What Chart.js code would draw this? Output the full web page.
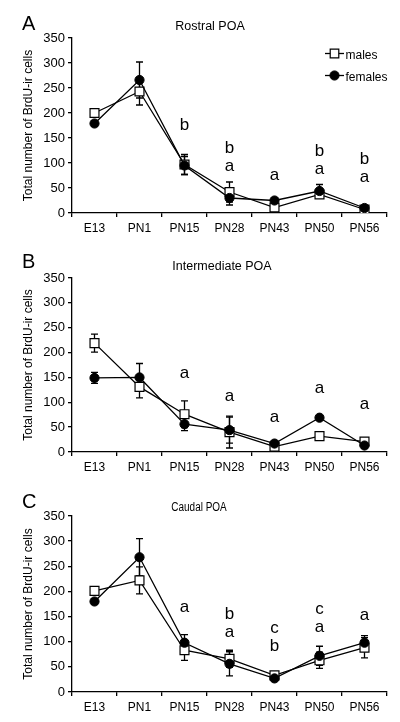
<!DOCTYPE html>
<html><head><meta charset="utf-8">
<script src="https://cdn.jsdelivr.net/npm/chart.js@4.4.1/dist/chart.umd.min.js"></script>
<style>
html,body{margin:0;padding:0;background:#fff;}
#wrap{position:relative;width:400px;height:722px;overflow:hidden;background:#fff;}
canvas{position:absolute;left:0;}
</style></head><body>
<div id="wrap">
<canvas id="cA" width="400" height="240" style="top:0px"></canvas>
<canvas id="cB" width="400" height="240" style="top:240px"></canvas>
<canvas id="cC" width="400" height="242" style="top:480px"></canvas>
</div>
<script>
// ---------- DATA ----------
const categories = ["E13", "PN1", "PN15", "PN28", "PN43", "PN50", "PN56"];
const yTicks = [0, 50, 100, 150, 200, 250, 300, 350];
const seriesNames = ["males", "females"];
const yTitle = "Total number of BrdU-ir cells";

// Panel A – Rostral POA
const rostralMales      = [200, 243, 97, 42, 11, 37, 7];
const rostralMalesErr   = [5, 27, 20, 20, 4, 5, 3];
const rostralFemales    = [179, 266, 95, 30, 25, 44, 10];
const rostralFemalesErr = [5, 36, 18, 14, 4, 13, 3];
const rostralLetters    = [[], [], ["b"], ["b", "a"], ["a"], ["b", "a"], ["b", "a"]];
const rostralLetterLevels = [null, null, 167, 84, 66, 78, 62];

// Panel B – Intermediate POA
const interMales      = [219, 131, 76, 40, 11, 32, 21];
const interMalesErr   = [18, 22, 27, 32, 3, 8, 6];
const interFemales    = [149, 150, 56, 44, 17, 69, 13];
const interFemalesErr = [11, 28, 13, 26, 3, 3, 5];
const interLetters    = [[], [], ["a"], ["a"], ["a"], ["a"], ["a"]];
const interLetterLevels = [null, null, 149, 103, 60, 119, 87];

// Panel C – Caudal POA
const caudalMales      = [201, 222, 83, 66, 33, 63, 88];
const caudalMalesErr   = [5, 27, 20, 17, 4, 16, 20];
const caudalFemales    = [180, 268, 98, 56, 27, 72, 98];
const caudalFemalesErr = [5, 37, 16, 24, 4, 19, 14];
const caudalLetters    = [[], [], ["a"], ["b", "a"], ["c", "b"], ["c", "a"], ["a"]];
const caudalLetterLevels = [null, null, 159, 109, 82, 119, 143];

// ---------- STYLE / PLUGINS ----------
const FONT = '"Liberation Sans", Arial, Helvetica, sans-serif';

const errorBarPlugin = {
  id: 'errorBars',
  beforeDatasetsDraw(chart) {
    const ctx = chart.ctx, ys = chart.scales.y;
    ctx.save();
    ctx.strokeStyle = '#000';
    ctx.lineWidth = 1.3;
    chart.data.datasets.forEach((ds, di) => {
      const meta = chart.getDatasetMeta(di);
      meta.data.forEach((pt, i) => {
        const v = ds.data[i], e = ds.errors[i];
        const x = pt.x;
        const yt = ys.getPixelForValue(v + e), yb = ys.getPixelForValue(v - e);
        ctx.beginPath();
        ctx.moveTo(x, yt); ctx.lineTo(x, yb);
        ctx.moveTo(x - 3.5, yt); ctx.lineTo(x + 3.5, yt);
        ctx.moveTo(x - 3.5, yb); ctx.lineTo(x + 3.5, yb);
        ctx.stroke();
      });
    });
    ctx.restore();
  }
};

const decoPlugin = {
  id: 'deco',
  afterDraw(chart, args, opts) {
    const ctx = chart.ctx, xs = chart.scales.x, ys = chart.scales.y;
    ctx.save();
    ctx.fillStyle = '#000';
    // panel letter
    ctx.font = '20px ' + FONT;
    ctx.textAlign = 'left';
    ctx.textBaseline = 'alphabetic';
    ctx.fillText(opts.panel, 22, opts.panelBaseline);
    // panel title (optionally horizontally condensed)
    ctx.save();
    ctx.font = opts.titleSize + 'px ' + FONT;
    ctx.textAlign = 'center';
    ctx.textBaseline = 'middle';
    ctx.translate(opts.titleX, opts.titleY);
    ctx.scale(opts.titleStretch, 1);
    ctx.fillText(opts.title, 0, 0);
    ctx.restore();
    // significance letters
    ctx.font = '17px ' + FONT;
    ctx.textAlign = 'center';
    ctx.textBaseline = 'alphabetic';
    opts.letters.forEach((arr, i) => {
      if (!arr.length) return;
      const x = xs.getPixelForValue(i);
      const yb = ys.getPixelForValue(opts.levels[i]);
      for (let k = arr.length - 1, j = 0; k >= 0; k--, j++) {
        ctx.fillText(arr[k], x, yb - j * 18);
      }
    });
    // legend
    if (opts.legend) {
      const items = [
        {ds: chart.data.datasets[0], y: 53.5, base: 59},
        {ds: chart.data.datasets[1], y: 75.5, base: 81}
      ];
      items.forEach(it => {
        ctx.strokeStyle = '#000';
        ctx.lineWidth = 1.3;
        ctx.beginPath(); ctx.moveTo(325, it.y); ctx.lineTo(344, it.y); ctx.stroke();
        ctx.fillStyle = it.ds.pointBackgroundColor;
        ctx.strokeStyle = '#000';
        ctx.lineWidth = it.ds.pointBorderWidth;
        ctx.beginPath();
        if (it.ds.pointStyle === 'rect') {
          const s = 5.5 * Math.SQRT1_2 + 0.4;
          ctx.rect(334.5 - s, it.y - s, 2 * s, 2 * s);
        } else {
          ctx.arc(334.5, it.y, it.ds.pointRadius, 0, Math.PI * 2);
        }
        ctx.fill(); ctx.stroke();
        ctx.fillStyle = '#000';
        ctx.font = '12px ' + FONT;
        ctx.textAlign = 'left';
        ctx.textBaseline = 'alphabetic';
        ctx.fillText(it.ds.label, 345.5, it.base);
      });
    }
    ctx.restore();
  }
};

function makeChart(id, males, malesErr, females, femalesErr, deco, layout) {
  return new Chart(document.getElementById(id), {
    type: 'line',
    data: {
      labels: categories,
      datasets: [
        {
          label: seriesNames[0], data: males, errors: malesErr,
          borderColor: '#000', borderWidth: 1.3, tension: 0,
          pointStyle: 'rect', pointRadius: 6.3, pointBorderWidth: 1.2,
          pointBackgroundColor: '#fff', pointBorderColor: '#000', order: 1
        },
        {
          label: seriesNames[1], data: females, errors: femalesErr,
          borderColor: '#000', borderWidth: 1.3, tension: 0,
          pointStyle: 'circle', pointRadius: 4.6, pointBorderWidth: 1,
          pointBackgroundColor: '#000', pointBorderColor: '#000', order: 0
        }
      ]
    },
    options: {
      responsive: false, animation: false, events: [],
      devicePixelRatio: 1,
      layout: { padding: { top: layout.top, right: 13, left: 0, bottom: 0 } },
      plugins: {
        legend: { display: false },
        tooltip: { enabled: false },
        deco: deco
      },
      scales: {
        x: {
          type: 'category', offset: true,
          afterFit(s) { s.height = layout.xh; },
          grid: { offset: true, drawOnChartArea: false, drawTicks: true, tickLength: 4, color: '#000', lineWidth: 1.3 },
          border: { color: '#000', width: 1.3 },
          ticks: { color: '#000', font: { family: FONT, size: 12 }, padding: 4, maxRotation: 0, autoSkip: false }
        },
        y: {
          min: yTicks[0], max: yTicks[yTicks.length - 1],
          afterFit(s) { s.width = 72; },
          afterBuildTicks(s) { s.ticks = yTicks.map(v => ({ value: v })); },
          grid: { drawOnChartArea: false, drawTicks: true, tickLength: 4, color: '#000', lineWidth: 1.3 },
          border: { color: '#000', width: 1.3 },
          ticks: { color: '#000', font: { family: FONT, size: 13 }, padding: 3 },
          title: { display: true, text: yTitle, color: '#000', font: { family: FONT, size: 12 }, padding: { top: 21, bottom: 0 } }
        }
      }
    },
    plugins: [errorBarPlugin, decoPlugin]
  });
}

makeChart('cA', rostralMales, rostralMalesErr, rostralFemales, rostralFemalesErr,
  { panel: 'A', panelBaseline: 30, title: 'Rostral POA', titleSize: 12.5, titleStretch: 1, titleX: 210, titleY: 27,
    letters: rostralLetters, levels: rostralLetterLevels, legend: true },
  { top: 38, xh: 27 });
makeChart('cB', interMales, interMalesErr, interFemales, interFemalesErr,
  { panel: 'B', panelBaseline: 28, title: 'Intermediate POA', titleSize: 12.5, titleStretch: 1, titleX: 222, titleY: 27,
    letters: interLetters, levels: interLetterLevels, legend: false },
  { top: 38, xh: 28 });
makeChart('cC', caudalMales, caudalMalesErr, caudalFemales, caudalFemalesErr,
  { panel: 'C', panelBaseline: 28, title: 'Caudal POA', titleSize: 12, titleStretch: 0.83, titleX: 199, titleY: 28,
    letters: caudalLetters, levels: caudalLetterLevels, legend: false },
  { top: 36, xh: 30 });
</script>
</body></html>
